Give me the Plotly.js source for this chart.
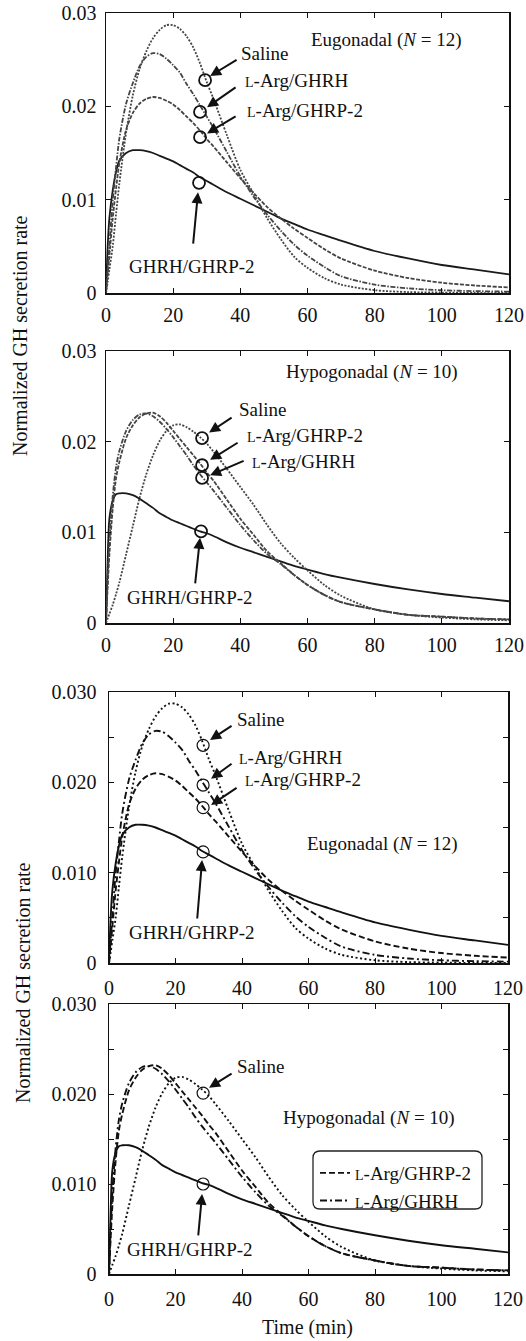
<!DOCTYPE html>
<html>
<head>
<meta charset="utf-8">
<script src="https://cdn.plot.ly/plotly-3.0.1.min.js"></script>
<style>
  html, body { margin: 0; padding: 0; background: #fff; }
  #chart { width: 526px; height: 1341px; }
</style>
</head>
<body>
<div id="chart"></div>
<script>
// ---------- data ----------
const time = [0,0.5,1,2,3,4,6,8,10,12,14,16,18,20,22,24,26,28,30,32,36,40,44,48,52,56,60,65,70,80,90,100,110,120];

// Eugonadal (N = 12)
const eugSaline = [0,0.0012,0.0025,0.005,0.0085,0.0118,0.0172,0.0212,0.024,0.0259,0.0273,0.0282,0.0287,0.0287,0.0283,0.0275,0.0263,0.0246,0.0226,0.0208,0.0169,0.0132,0.0106,0.008,0.0058,0.0039,0.0027,0.0016,0.0009,0.0003,0.0001,0.00005,0,0];
const eugArgGHRH = [0,0.0025,0.005,0.0099,0.0135,0.0166,0.0203,0.0225,0.0243,0.0253,0.0257,0.0256,0.0251,0.0244,0.0236,0.0224,0.0213,0.0201,0.0189,0.0177,0.0151,0.0125,0.0103,0.0084,0.0067,0.0052,0.004,0.0028,0.0018,0.0009,0.0005,0.0003,0.0002,0.00015];
const eugArgGHRP2 = [0,0.002,0.004,0.008,0.0112,0.014,0.0175,0.0193,0.0203,0.0208,0.021,0.0209,0.0206,0.0202,0.0196,0.0189,0.0182,0.0174,0.0165,0.0157,0.014,0.0123,0.0107,0.0092,0.008,0.0069,0.0059,0.0047,0.0037,0.0024,0.0016,0.0011,0.0008,0.0006];
const eugGHRHGHRP2 = [0,0.005,0.008,0.011,0.013,0.0142,0.015,0.0153,0.0153,0.0152,0.015,0.0147,0.0144,0.0141,0.0137,0.0133,0.0129,0.0124,0.012,0.0116,0.0108,0.0101,0.0094,0.0087,0.008,0.0074,0.0068,0.0062,0.0056,0.0045,0.0037,0.003,0.0025,0.002];

// Hypogonadal (N = 10)
const hypSaline = [0,0.0005,0.001,0.002,0.0032,0.0045,0.0076,0.0107,0.0138,0.0164,0.0185,0.0201,0.0212,0.0218,0.0219,0.0216,0.0211,0.0205,0.0198,0.0189,0.017,0.015,0.013,0.0108,0.0088,0.0072,0.0058,0.0042,0.003,0.0015,0.0009,0.0006,0.0004,0.0003];
const hypArgGHRP2 = [0,0.004,0.0075,0.0126,0.016,0.0178,0.0204,0.0218,0.0227,0.0231,0.0232,0.0228,0.0221,0.0212,0.0203,0.0194,0.0185,0.0176,0.0166,0.0157,0.0136,0.0115,0.0097,0.0079,0.0066,0.0053,0.0042,0.0031,0.0023,0.0015,0.0009,0.0007,0.0005,0.0004];
const hypArgGHRH = [0,0.005,0.009,0.014,0.0172,0.019,0.0212,0.0224,0.023,0.0231,0.0228,0.0222,0.0214,0.0205,0.0195,0.0185,0.0174,0.0164,0.0155,0.0146,0.0127,0.0108,0.0091,0.0076,0.0065,0.0053,0.0042,0.0031,0.0023,0.0015,0.0009,0.0007,0.0005,0.0004];
const hypGHRHGHRP2 = [0,0.007,0.0115,0.0135,0.0142,0.0143,0.0143,0.0141,0.0137,0.0132,0.0127,0.0121,0.0117,0.0113,0.011,0.0107,0.0104,0.0101,0.0099,0.0096,0.0089,0.0083,0.0078,0.0073,0.0068,0.0063,0.0059,0.0054,0.005,0.0043,0.0037,0.0032,0.0028,0.0024];

// circle markers (time, value) per panel
const circ1T = [29.5, 28.0, 28.0, 27.7];
const circ1V = [0.0228, 0.0194, 0.0167, 0.0118];
const circ2T = [28.6, 28.6, 28.6, 28.3];
const circ2V = [0.0204, 0.0174, 0.0160, 0.0101];
const circ3T = [28.3, 28.3, 28.3, 28.3];
const circ3V = [0.0241, 0.0197, 0.0172, 0.0123];
const circ4T = [28.3, 28.3];
const circ4V = [0.0201, 0.0100];

const xTicks = [0,20,40,60,80,100,120];
const yTicksTop = [0,0.01,0.02,0.03];
const yTextTop = ['0','0.01','0.02','0.03'];
const yTicksBot = [0,0.005,0.01,0.015,0.02,0.025,0.03];
const yTextBot = ['0','','0.010','','0.020','','0.030'];

// ---------- styling ----------
const FONT = 'Liberation Serif, Times New Roman, Tinos, DejaVu Serif, serif';
const SC = '<span style="font-size:14px">L</span>';
const nameSaline = 'Saline';
const nameGHRH = SC + '-Arg/GHRH';
const nameGHRP2 = SC + '-Arg/GHRP-2';
const nameSolid = 'GHRH/GHRP-2';

const topStyle = {
  saline: {color:'#444', width:1.8, dash:'2px,1.5px'},
  ghrh:   {color:'#444', width:1.8, dash:'5px,1.5px,1.5px,1.5px'},
  ghrp2:  {color:'#444', width:1.8, dash:'4px,1.5px'},
  solid:  {color:'#1a1a1a', width:1.8, dash:'solid'}
};
const botStyle = {
  saline: {color:'#111', width:1.9, dash:'2px,2.5px'},
  ghrh:   {color:'#111', width:1.9, dash:'7px,3px,2px,3px'},
  ghrp2:  {color:'#111', width:1.9, dash:'6px,3px'},
  solid:  {color:'#111', width:1.9, dash:'solid'}
};

function ax(p){ return p === 1 ? '' : String(p); }

function lineTrace(p, y, style, name, showleg){
  return {
    x: time, y: y, type:'scatter', mode:'lines',
    xaxis:'x'+ax(p), yaxis:'y'+ax(p),
    line: Object.assign({shape:'spline', smoothing:0.8}, style),
    name: name, showlegend: !!showleg, hoverinfo:'skip'
  };
}
function circTrace(p, tx, vy, lw){
  return {
    x: tx, y: vy, type:'scatter', mode:'markers',
    xaxis:'x'+ax(p), yaxis:'y'+ax(p),
    marker:{symbol:'circle-open', size:12, color:'#111', line:{width:lw, color:'#111'}},
    showlegend:false, hoverinfo:'skip', cliponaxis:false
  };
}

const traces = [
  lineTrace(1, eugGHRHGHRP2, topStyle.solid, nameSolid),
  lineTrace(1, eugArgGHRP2, topStyle.ghrp2, nameGHRP2),
  lineTrace(1, eugArgGHRH, topStyle.ghrh, nameGHRH),
  lineTrace(1, eugSaline, topStyle.saline, nameSaline),
  circTrace(1, circ1T, circ1V, 1.8),

  lineTrace(2, hypGHRHGHRP2, topStyle.solid, nameSolid),
  lineTrace(2, hypArgGHRP2, topStyle.ghrp2, nameGHRP2),
  lineTrace(2, hypArgGHRH, topStyle.ghrh, nameGHRH),
  lineTrace(2, hypSaline, topStyle.saline, nameSaline),
  circTrace(2, circ2T, circ2V, 1.8),

  lineTrace(3, eugGHRHGHRP2, botStyle.solid, nameSolid),
  lineTrace(3, eugArgGHRP2, botStyle.ghrp2, nameGHRP2),
  lineTrace(3, eugArgGHRH, botStyle.ghrh, nameGHRH),
  lineTrace(3, eugSaline, botStyle.saline, nameSaline),
  circTrace(3, circ3T, circ3V, 1.2),

  lineTrace(4, hypArgGHRP2, botStyle.ghrp2, nameGHRP2, true),
  lineTrace(4, hypArgGHRH, botStyle.ghrh, nameGHRH, true),
  lineTrace(4, hypGHRHGHRP2, botStyle.solid, nameSolid),
  lineTrace(4, hypSaline, botStyle.saline, nameSaline),
  circTrace(4, circ4T, circ4V, 1.2)
];

// ---------- layout ----------
const W = 526, H = 1341;
const px = v => v / W;
const py = v => 1 - v / H;

// panel frames in page pixels: [left, right, top, bottom]
const frames = [
  [106, 509, 13, 293],
  [106, 509, 351, 623],
  [109, 508, 692, 963],
  [109, 508, 1004, 1274]
];

const layout = {
  width: W, height: H,
  margin: {l:0, r:0, t:0, b:0},
  paper_bgcolor:'#fff', plot_bgcolor:'#fff',
  font: {family: FONT, size: 19, color:'#111'},
  showlegend: true,
  legend: {
    x: px(315), y: py(1154), xanchor:'left', yanchor:'top',
    bgcolor:'rgba(0,0,0,0)', borderwidth:0,
    font:{family:FONT, size:19, color:'#111'},
    itemwidth:30, tracegroupgap:0
  },
  annotations: [],
  shapes: []
};

frames.forEach((f, i) => {
  const p = i + 1;
  const top = p <= 2;
  layout['xaxis' + ax(p)] = {
    domain:[px(f[0]), px(f[1])], range:[0,120], anchor:'y'+ax(p),
    tickvals:xTicks, ticktext:xTicks.map(String),
    ticks:'inside', ticklen:5, tickwidth:1, tickcolor:'#111',
    showline:true, linecolor:'#111', linewidth:1.5, mirror:'ticks',
    showgrid:false, zeroline:false, fixedrange:true,
    tickfont:{family:FONT, size:20, color:'#111'},
    ticklabelstandoff: top ? 3 : 6
  };
  layout['yaxis' + ax(p)] = {
    domain:[py(f[3]), py(f[2])], range:[0,0.03], anchor:'x'+ax(p),
    tickvals: top ? yTicksTop : yTicksBot,
    ticktext: top ? yTextTop : yTextBot,
    ticks:'inside', ticklen:5, tickwidth:1, tickcolor:'#111',
    showline:true, linecolor:'#111', linewidth:1.5, mirror:'ticks',
    showgrid:false, zeroline:false, fixedrange:true,
    tickfont:{family:FONT, size:20, color:'#111'},
    ticklabelstandoff: top ? 4 : 7
  };
});

function txt(p, x, y, text, anchor){
  return {xref:'x'+ax(p), yref:'y'+ax(p), x:x, y:y, text:text, showarrow:false,
          xanchor:anchor || 'center', yanchor:'middle',
          font:{family:FONT, size:19, color:'#111'}};
}
function arr(p, x, y, dx, dy){
  return {xref:'x'+ax(p), yref:'y'+ax(p), x:x, y:y, ax:dx, ay:dy, text:'',
          showarrow:true, arrowhead:2, arrowsize:1.1, arrowwidth:2, arrowcolor:'#111', standoff:0};
}

const ann = layout.annotations;
// Panel 1
ann.push(txt(1, 83.4, 0.0271, 'Eugonadal (<i>N</i> = 12)'));
ann.push(txt(1, 39.6, 0.0257, nameSaline, 'left'));
ann.push(txt(1, 40.8, 0.0228, nameGHRH, 'left'));
ann.push(txt(1, 41.4, 0.0196, nameGHRP2, 'left'));
ann.push(txt(1, 25.6, 0.0028, nameSolid));
ann.push(arr(1, 31.0, 0.02325, 28, -17));
ann.push(arr(1, 30.1, 0.0199, 30, -21));
ann.push(arr(1, 30.1, 0.0171, 30, -18));
ann.push(arr(1, 27.4, 0.0108, -5, 53));
// Panel 2
ann.push(txt(2, 79.2, 0.0277, 'Hypogonadal (<i>N</i> = 10)'));
ann.push(txt(2, 39.0, 0.0236, nameSaline, 'left'));
ann.push(txt(2, 41.4, 0.0207, nameGHRP2, 'left'));
ann.push(txt(2, 42.9, 0.0178, nameGHRH, 'left'));
ann.push(txt(2, 25.0, 0.0028, nameSolid));
ann.push(arr(2, 30.7, 0.0210, 24, -16));
ann.push(arr(2, 31.0, 0.0180, 29, -18));
ann.push(arr(2, 31.0, 0.0163, 35, -15));
ann.push(arr(2, 28.0, 0.0094, -5, 47));
// Panel 3
ann.push(txt(3, 82.4, 0.0132, 'Eugonadal (<i>N</i> = 12)'));
ann.push(txt(3, 37.9, 0.0270, nameSaline, 'left'));
ann.push(txt(3, 38.5, 0.0227, nameGHRH, 'left'));
ann.push(txt(3, 40.3, 0.0203, nameGHRP2, 'left'));
ann.push(txt(3, 25.0, 0.0034, nameSolid));
ann.push(arr(3, 30.4, 0.0247, 23, -15));
ann.push(arr(3, 30.7, 0.0204, 22, -16));
ann.push(arr(3, 30.7, 0.0175, 27, -18));
ann.push(arr(3, 28.0, 0.0114, -5, 60));
// Panel 4
ann.push(txt(4, 37.9, 0.0231, nameSaline, 'left'));
ann.push(txt(4, 78.2, 0.0173, 'Hypogonadal (<i>N</i> = 10)'));
ann.push(txt(4, 24.4, 0.0027, nameSolid));
ann.push(arr(4, 30.1, 0.0207, 24, -15));
ann.push(arr(4, 28.0, 0.0089, -4, 43));

// axis titles
const ytitle = 'Normalized GH secretion rate';
ann.push({xref:'paper', yref:'paper', x:px(20), y:py(336), text:ytitle, textangle:-90,
          showarrow:false, xanchor:'center', yanchor:'middle', font:{family:FONT, size:20, color:'#111'}});
ann.push({xref:'paper', yref:'paper', x:px(23), y:py(983), text:ytitle, textangle:-90,
          showarrow:false, xanchor:'center', yanchor:'middle', font:{family:FONT, size:20, color:'#111'}});
ann.push({xref:'paper', yref:'paper', x:px(307), y:py(1327), text:'Time (min)',
          showarrow:false, xanchor:'center', yanchor:'middle', font:{family:FONT, size:20, color:'#111'}});

// rounded legend box
(function(){
  const l = 313, r = 482, t = 1151, b = 1209, rad = 7;
  const X = v => px(v).toFixed(5), Y = v => py(v).toFixed(5);
  const path = 'M' + X(l+rad) + ',' + Y(t) +
    ' L' + X(r-rad) + ',' + Y(t) + ' Q' + X(r) + ',' + Y(t) + ' ' + X(r) + ',' + Y(t+rad) +
    ' L' + X(r) + ',' + Y(b-rad) + ' Q' + X(r) + ',' + Y(b) + ' ' + X(r-rad) + ',' + Y(b) +
    ' L' + X(l+rad) + ',' + Y(b) + ' Q' + X(l) + ',' + Y(b) + ' ' + X(l) + ',' + Y(b-rad) +
    ' L' + X(l) + ',' + Y(t+rad) + ' Q' + X(l) + ',' + Y(t) + ' ' + X(l+rad) + ',' + Y(t) + ' Z';
  layout.shapes.push({type:'path', xref:'paper', yref:'paper', path:path,
                      line:{color:'#222', width:1.3}, fillcolor:'rgba(0,0,0,0)'});
})();

Plotly.newPlot('chart', traces, layout, {staticPlot:true, displayModeBar:false});
</script>
</body>
</html>
